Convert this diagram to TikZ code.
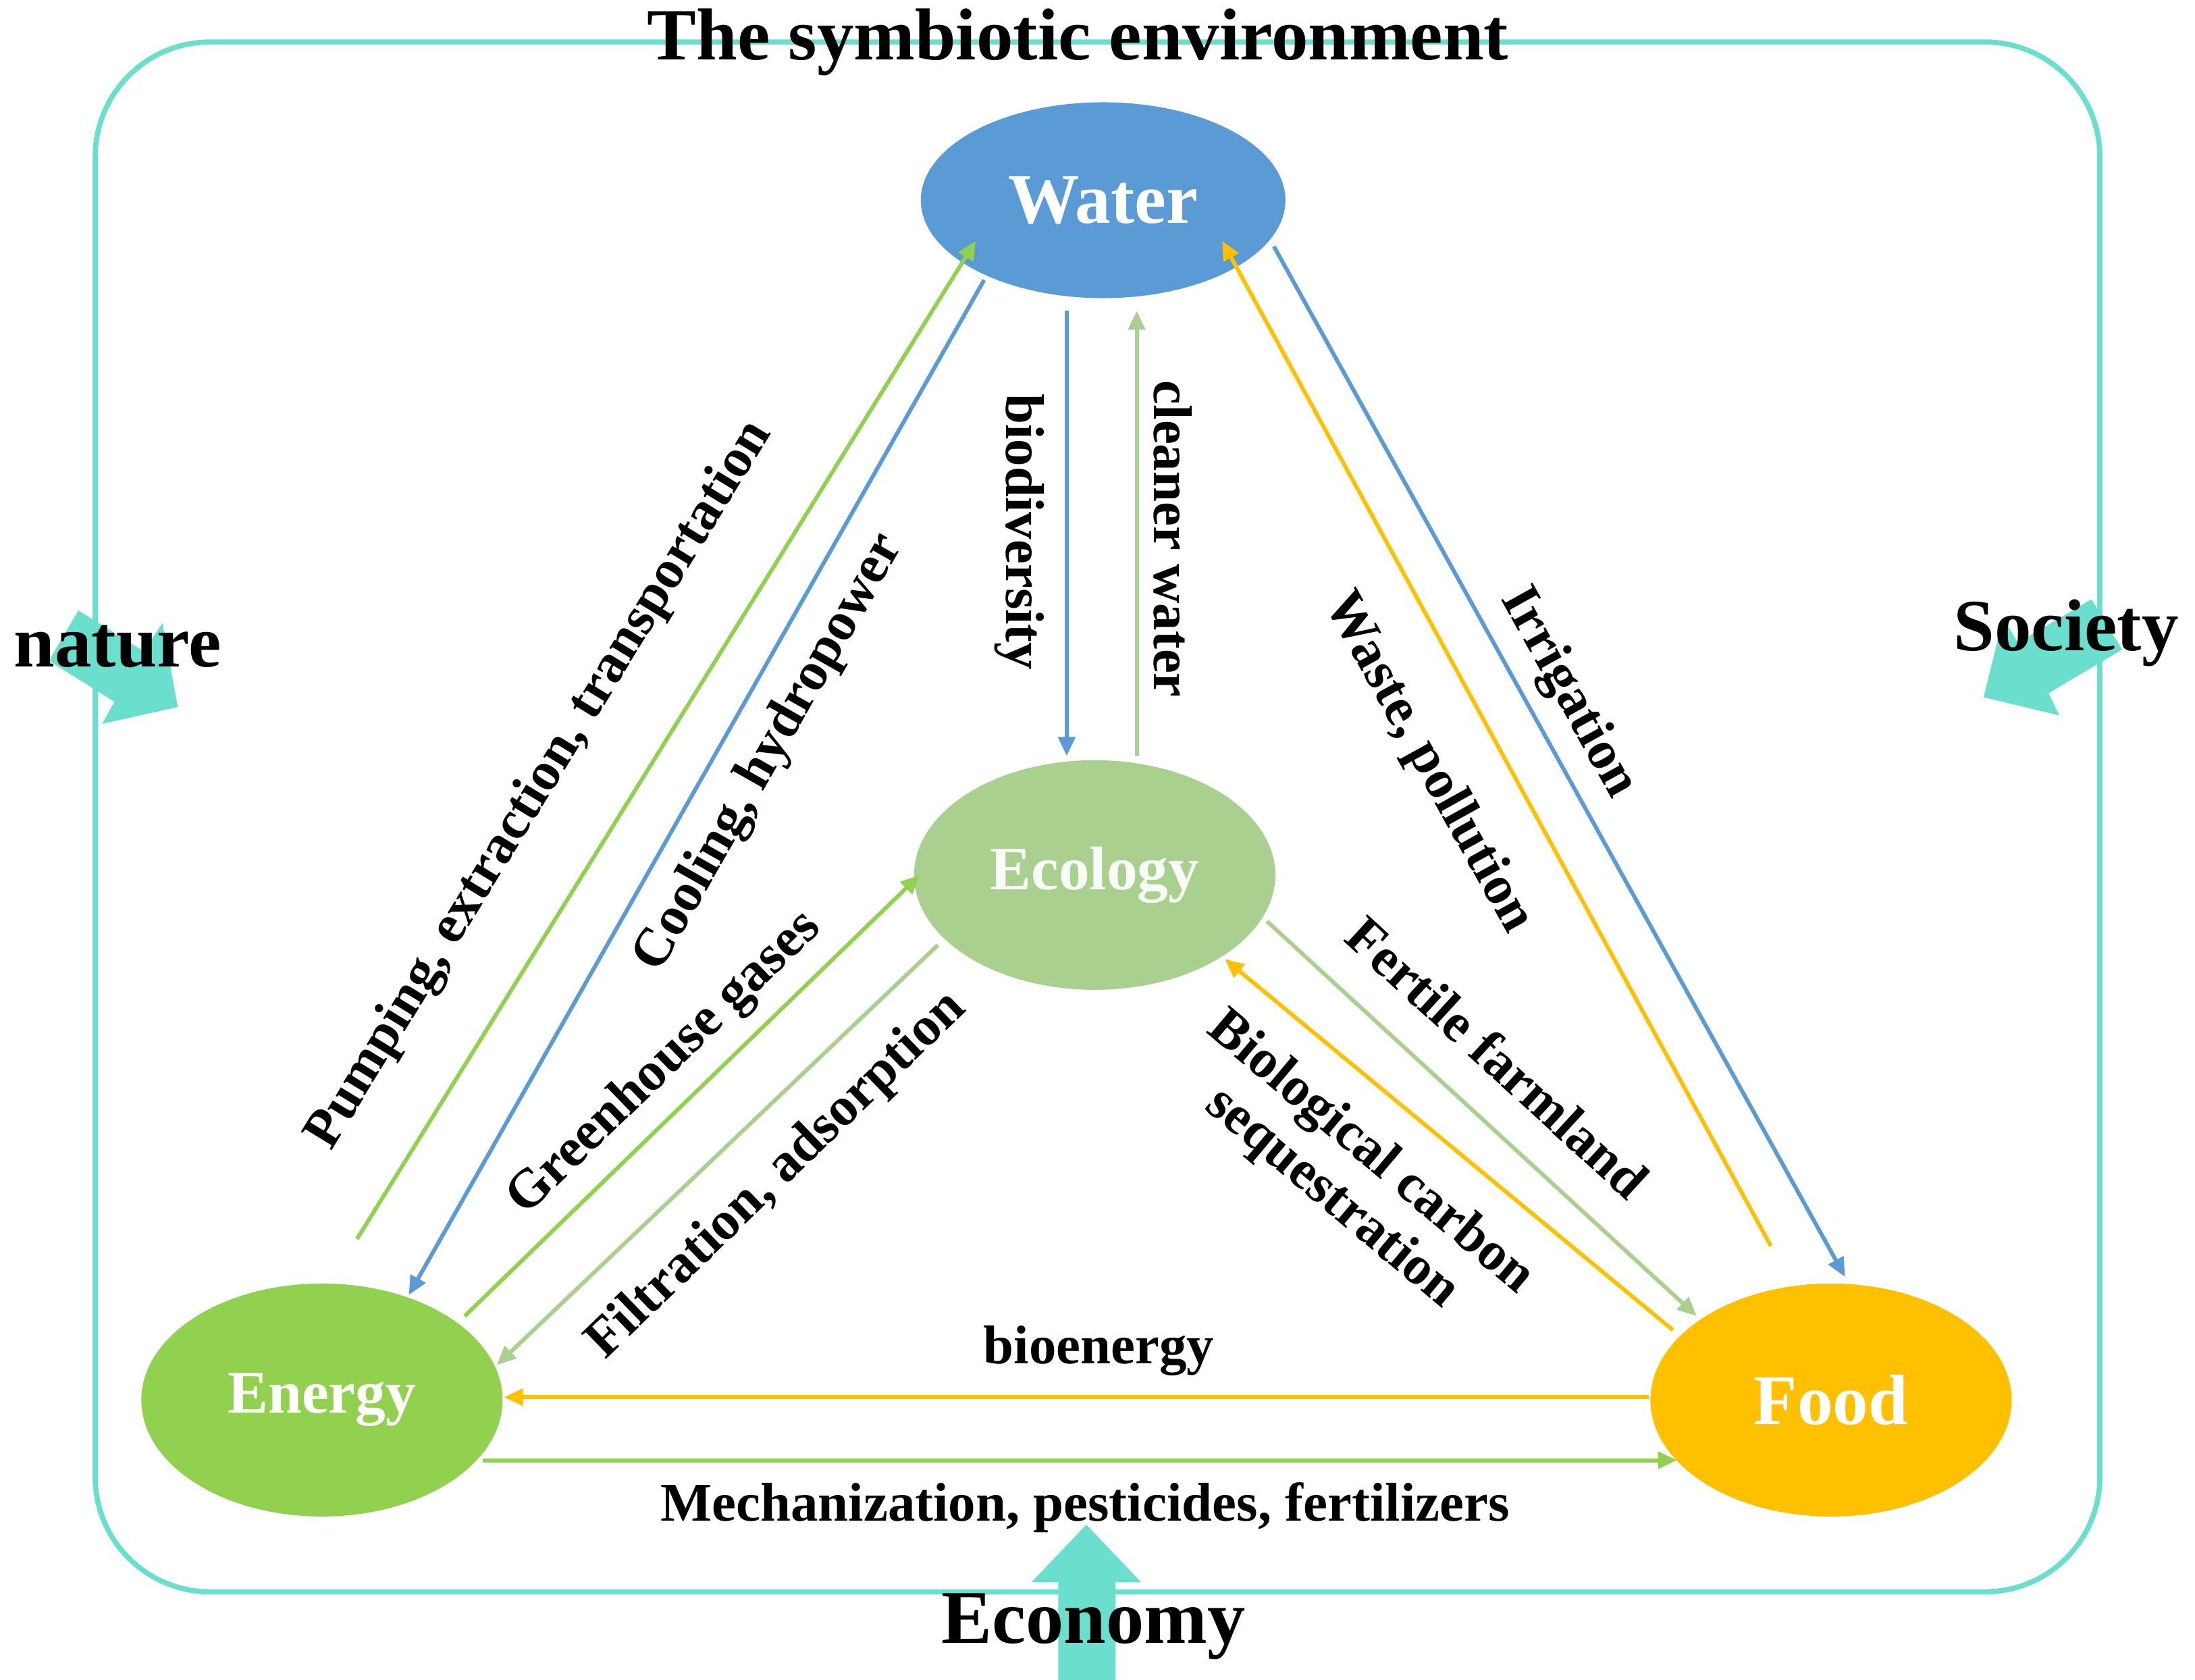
\documentclass[tikz,border=0pt]{standalone}
\usepackage{fontspec}
\setmainfont{Liberation Serif}
\usetikzlibrary{calc,shapes.geometric,arrows.meta}
\definecolor{waterblue}{HTML}{5B9BD5}
\definecolor{ecogreen}{HTML}{A9D08E}
\definecolor{energygreen}{HTML}{92D050}
\definecolor{foodorange}{HTML}{FFC000}
\definecolor{turq}{HTML}{6ADFCD}
\tikzset{
	sector/.style={ellipse,draw=none,minimum width=53.5mm,minimum height=31mm,text=white,font=\bfseries\fontsize{27}{30}\selectfont},
	flow/.style={line width=1.7pt,-{Triangle[length=8pt,width=7pt]}},
	lbl/.style={font=\bfseries\fontsize{23}{25}\selectfont,inner sep=0pt,align=center},
	big/.style={font=\bfseries\fontsize{31}{33}\selectfont,inner sep=0pt},
	bigarrow/.style={fill=turq,draw=none}
}
\begin{document}
\begin{tikzpicture}[x=0.2073mm,y=-0.2073mm]
	\useasboundingbox (0,0) rectangle (1568,1200);

	% frame
	\draw[turq,line width=2.2pt,rounded corners=17mm] (68,30) rectangle (1500,1137);

	% outer forces
	\fill[bigarrow] (56,436) -- (102.7,465.2) -- (116,445) -- (127,505) -- (73,517) -- (81.7,501.2) -- (35,472) -- cycle;
	\fill[bigarrow] (1494,428) -- (1441.4,459.1) -- (1431,441) -- (1417,498) -- (1471,511) -- (1463.4,495.1) -- (1516,464) -- cycle;
	\fill[bigarrow] (756,1200) -- (756,1130) -- (737,1130) -- (776,1089) -- (815,1130) -- (797,1130) -- (797,1200) -- cycle;
	\node[big] (title) at (770,30) {The symbiotic environment};
	\node[big] (nature) at (84,462) {nature};
	\node[big] (society) at (1476,452) {Society};
	\node[big,font=\bfseries\fontsize{32}{34}\selectfont] (economy) at (781,1162) {Economy};

	% sectors
	\node[sector,fill=waterblue,minimum width=54mm,minimum height=29mm,font=\bfseries\fontsize{30}{32}\selectfont] (water) at (788,143) {Water};
	\node[sector,fill=ecogreen,minimum height=34mm,font=\bfseries\fontsize{26}{28}\selectfont,text=white!92!ecogreen] (ecology) at (782,625) {Ecology};
	\node[sector,fill=energygreen,minimum height=34.5mm,font=\bfseries\fontsize{25.5}{28}\selectfont] (energy) at (230,1000) {Energy};
	\node[sector,fill=foodorange,minimum height=34.5mm,font=\bfseries\fontsize{30}{32}\selectfont] (food) at (1308,1000) {Food};

	% flows
	\draw[flow,energygreen] ($(energy)+(25,-115)$) -- ($(water)+(-91,29)$);
	\draw[flow,waterblue] ($(water)+(-85,57)$) -- ($(energy)+(62,-75)$);
	\draw[flow,waterblue] ($(water)+(-26,79)$) -- ($(ecology)+(-20,-85)$);
	\draw[flow,ecogreen] ($(ecology)+(30,-85)$) -- ($(water)+(24,79)$);
	\draw[flow,waterblue] ($(water)+(122,33)$) -- ($(food)+(10,-88)$);
	\draw[flow,foodorange] ($(food)+(-43,-110)$) -- ($(water)+(85,29)$);
	\draw[flow,energygreen] ($(energy)+(102,-60)$) -- ($(ecology)+(-125,0)$);
	\draw[flow,ecogreen] ($(ecology)+(-112,50)$) -- ($(energy)+(125,-25)$);
	\draw[flow,ecogreen] ($(ecology)+(123,33)$) -- ($(food)+(-96,-60)$);
	\draw[flow,foodorange] ($(food)+(-113,-50)$) -- ($(ecology)+(93,60)$);
	\draw[flow,foodorange] ($(food)+(-130,-2)$) -- ($(energy)+(130,-2)$);
	\draw[flow,energygreen] ($(energy)+(115,43)$) -- ($(food)+(-110,43)$);

	% flow labels
	\node[lbl,rotate=58.5] (pumping) at (386,561) {Pumping, extraction, transportation};
	\node[lbl,rotate=60.4] (cooling) at (550,538) {Cooling, hydropower};
	\node[lbl,rotate=-90] (biodiv) at (728,380) {biodiversity};
	\node[lbl,rotate=-90] (cleaner) at (838,385) {cleaner water};
	\node[lbl,rotate=-61] (irrig) at (1120,495) {Irrigation};
	\node[lbl,rotate=-61] (waste) at (1020,545) {Waste, pollution};
	\node[lbl,rotate=44] (ghg) at (475,760) {Greenhouse gases};
	\node[lbl,rotate=44] (filtr) at (555,840) {Filtration, adsorption};
	\node[lbl,rotate=-42.5] (fertile) at (1070,755) {Fertile farmland};
	\node[lbl,rotate=-40] (carbon) at (965,840) {Biological carbon\\sequestration};
	\node[lbl] (bioen) at (785,965) {bioenergy};
	\node[lbl] (mech) at (775,1077) {Mechanization, pesticides, fertilizers};
\end{tikzpicture}
\end{document}
